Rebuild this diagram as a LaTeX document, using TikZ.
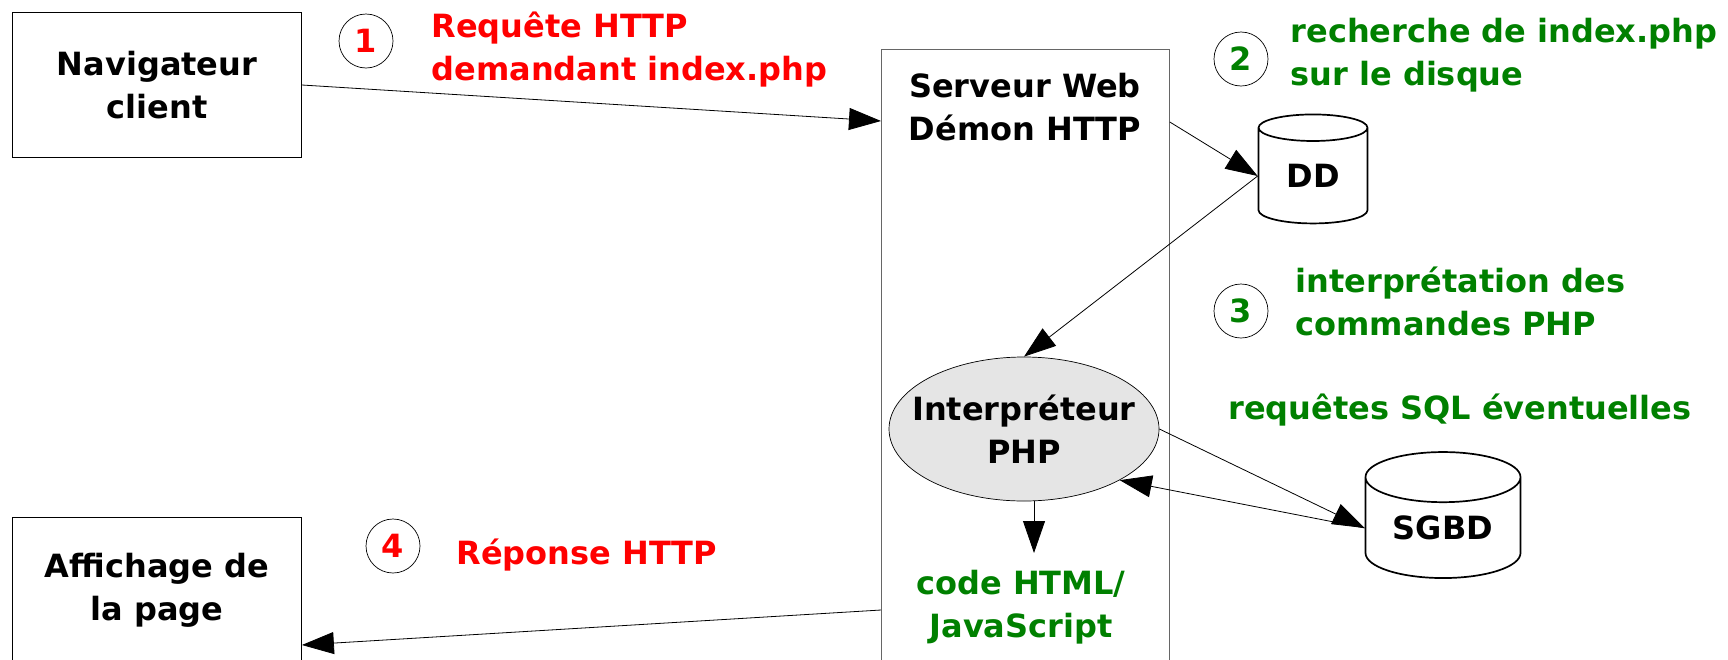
\documentclass[tikz,border=0pt]{standalone}
\usepackage{fontspec}
\setmainfont{DejaVu Sans}
\usetikzlibrary{arrows.meta,shapes.geometric}
\definecolor{vert}{RGB}{0,128,0}
\definecolor{rouge}{RGB}{255,0,0}

\begin{document}
\begin{tikzpicture}[x=1pt,y=-1pt]
        \tikzset{gras/.style = {font=\bfseries\fontsize{32}{43}\selectfont, align=center},
                 boite/.style = {gras, draw, line width=0.8pt, minimum width=289pt, minimum height=145pt},
                 bulle/.style = {draw, circle, line width=0.7pt, minimum size=54pt, inner sep=0pt, gras},
                 disque/.style = {gras, draw, cylinder, shape border rotate=90, aspect=0.5, line width=1.7pt, inner sep=0pt},
                 fleche/.style = {line width=0.8pt, -{Triangle[length=32pt,width=22pt]}}}
        \useasboundingbox (0,0) rectangle (1728,659);
        \node[boite] (nav) at (157,85) {Navigateur\\client};
        \node[boite] (aff) at (157,590) {Affichage de\\la page};
        \node[draw=black!60, line width=0.8pt, minimum width=288pt, minimum height=651pt, anchor=north west] (serveur) at (881,49) {};
        \node[gras] (web) at (1025,107) {Serveur Web\\Démon HTTP};
        \node[disque, minimum width=109pt, minimum height=109pt] (dd) at (1313,176) {DD};
        \node[disque, minimum width=155pt, minimum height=126pt] (sgbd) at (1443,528) {SGBD};
        \node[gras, ellipse, draw, fill=black!10, line width=0.7pt, minimum width=270pt, minimum height=144pt, inner sep=-20pt] (interp) at (1024,429) {Interpréteur\\PHP};
        \node[gras, text=vert] (code) at (1021,607) {code HTML/\\JavaScript};
        % les etapes
        \node[bulle, text=rouge] (e1) at (366,41) {1};
        \node[bulle, text=vert] (e2) at (1241,59) {2};
        \node[bulle, text=vert] (e3) at (1241,311) {3};
        \node[bulle, text=rouge] (e4) at (393,546) {4};
        \node[gras, text=rouge, align=left, anchor=west] (t1) at (428,50) {Requête HTTP\\demandant index.php};
        \node[gras, text=vert, align=left, anchor=west] (t2) at (1287,55) {recherche de index.php\\sur le disque};
        \node[gras, text=vert, align=left, anchor=west] (t3) at (1292,301) {interprétation des\\commandes PHP};
        \node[gras, text=rouge, anchor=west] (t4) at (453,555) {Réponse HTTP};
        \node[gras, text=vert] (sql) at (1460,410) {requêtes SQL éventuelles};
        % les fleches
        \draw[fleche] (nav.east) -- ([yshift=-72pt]serveur.north west);
        \draw[fleche] ([yshift=-73pt]serveur.north east) -- (dd.west);
        \draw[fleche] (dd.west) -- (interp.north);
        \draw[fleche] (interp.east) -- (sgbd.west);
        \draw[fleche] (sgbd.west) -- (interp.south east);
        \draw[fleche] ([xshift=10pt]interp.south) -- ([xshift=10pt]interp.south |- 0,553);
        \draw[fleche] ([yshift=-561pt]serveur.north west) -- ([yshift=-55pt]aff.east);
    \end{tikzpicture}
\end{document}
